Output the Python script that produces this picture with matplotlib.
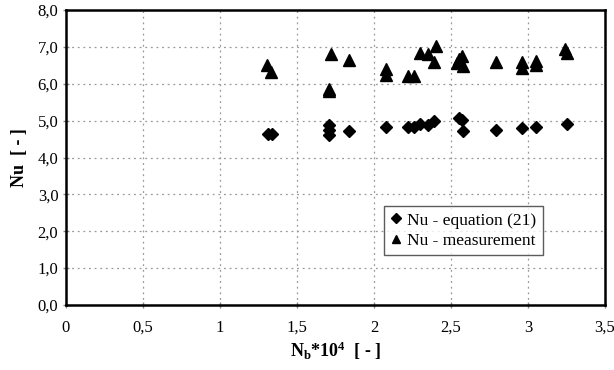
import matplotlib
matplotlib.use("Agg")
import matplotlib.pyplot as plt

plt.rcParams['font.family'] = ['Liberation Serif', 'DejaVu Serif']
plt.rcParams['mathtext.fontset'] = 'custom'
plt.rcParams['mathtext.rm'] = 'Liberation Serif'
plt.rcParams['mathtext.bf'] = 'Liberation Serif:bold'
plt.rcParams['mathtext.it'] = 'Liberation Serif:italic'

# Nusselt number from equation (21)
nb_eq = [1.31, 1.34, 1.71, 1.71, 1.71, 1.84, 2.08, 2.22, 2.26, 2.30, 2.35, 2.39,
         2.55, 2.57, 2.58, 2.79, 2.96, 3.05, 3.25]
nu_eq = [4.63, 4.63, 4.88, 4.74, 4.62, 4.72, 4.82, 4.82, 4.82, 4.90, 4.88, 4.99,
         5.08, 5.03, 4.72, 4.74, 4.79, 4.82, 4.90]

# Measured Nusselt number
nb_meas = [1.305, 1.33, 1.72, 1.84, 1.71, 1.71, 2.08, 2.08, 2.22, 2.26, 2.30, 2.35,
           2.40, 2.39, 2.54, 2.55, 2.57, 2.58, 2.79, 2.96, 2.96, 3.05, 3.05, 3.24, 3.25]
nu_meas = [6.50, 6.32, 6.82, 6.64, 5.85, 5.80, 6.39, 6.23, 6.21, 6.21, 6.84, 6.82,
           7.02, 6.59, 6.57, 6.66, 6.75, 6.48, 6.58, 6.58, 6.44, 6.62, 6.51, 6.93, 6.83]

x_ticks = [0, 0.5, 1, 1.5, 2, 2.5, 3, 3.5]
x_tick_labels = ['0', '0,5', '1', '1,5', '2', '2,5', '3', '3,5']
y_ticks = [0, 1, 2, 3, 4, 5, 6, 7, 8]
y_tick_labels = ['0,0', '1,0', '2,0', '3,0', '4,0', '5,0', '6,0', '7,0', '8,0']

fig = plt.figure(figsize=(6.14, 3.70), dpi=100)
ax = fig.add_axes([66 / 614, 1 - 305 / 370, (605 - 66) / 614, (305 - 10) / 370])

ax.plot(nb_eq, nu_eq, linestyle='none', marker='D', markersize=6.5,
        color='black', label='Nu - equation (21)', zorder=3)
ax.plot(nb_meas, nu_meas, linestyle='none', marker='^', markersize=8.5,
        color='black', label='Nu - measurement', zorder=3)

ax.set_xlim(0, 3.5)
ax.set_ylim(0, 8)
ax.set_xticks(x_ticks)
ax.set_xticklabels(x_tick_labels)
ax.set_yticks(y_ticks)
ax.set_yticklabels(y_tick_labels)

ax.grid(True, color='#999999', linestyle=(0, (1.5, 3)), linewidth=0.9)
ax.set_axisbelow(True)

for s in ax.spines.values():
    s.set_linewidth(1.8)
    s.set_color('black')

ax.tick_params(axis='both', direction='inout', length=5, width=1,
               color='#888888', labelsize=12)
ax.tick_params(axis='x', pad=8)
ax.tick_params(axis='y', pad=3)

ax.set_xlabel(r'$\mathbf{N_b}$' + r'$\mathbf{*10^4}$' + '  [ - ]',
              fontsize=13, fontweight='bold', labelpad=3)
ax.set_ylabel('Nu  [ - ]', fontsize=13, fontweight='bold', labelpad=7)

leg = ax.legend(loc='lower left', bbox_to_anchor=(0.590, 0.169),
                frameon=True, fancybox=False, fontsize=12.5,
                markerscale=0.75,
                handlelength=0.7, handletextpad=0.3, borderpad=0.35,
                labelspacing=0.25, borderaxespad=0)
leg.get_frame().set_edgecolor('#333333')
leg.get_frame().set_linewidth(1.0)

fig.savefig('out.png', dpi=100)
